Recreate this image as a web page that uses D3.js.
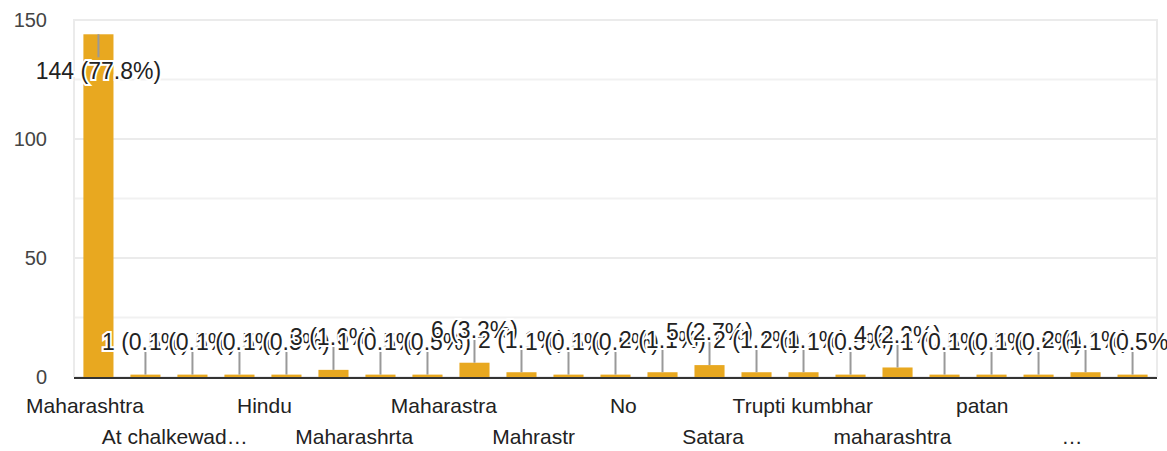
<!DOCTYPE html>
<meta charset="utf-8">
<script src="https://d3js.org/d3.v7.min.js"></script>
<html>
<head>
<style>
body { margin: 0; background: white; }
text { font-family: Arial, "Liberation Sans", sans-serif; }
</style>
</head>
<body>
<div id="my_dataviz"></div>
<script>

  // answer counts, one per bar (total 185)
  var counts = [144, 1, 1, 1, 1, 3, 1, 1, 6, 2, 1, 1, 2, 5, 2, 2, 1, 4, 1, 1, 1, 2, 1];
  var percents = ["77.8%", "0.5%", "0.5%", "0.5%", "0.5%", "1.6%", "0.5%", "0.5%", "3.2%", "1.1%", "0.5%", "0.5%",
                  "1.1%", "2.7%", "1.1%", "1.1%", "0.5%", "2.2%", "0.5%", "0.5%", "0.5%", "1.1%", "0.5%"];
  // category labels shown under the axis
  var xLabels = ["Maharashtra", "At chalkewad…", "Hindu", "Maharashrta", "Maharastra", "Mahrastr",
                 "No", "Satara", "Trupti kumbhar", "maharashtra", "patan", "…"];
  var yTicks = [0, 50, 100, 150];
  var yMinor = [25, 75, 125];

  var W = 1167, H = 451;
  var margin = {top: 20, right: 10, bottom: 74, left: 74};

  var svg = d3.select("#my_dataviz")
    .append("svg")
      .attr("width", W)
      .attr("height", H);

  var x = d3.scaleBand()
    .domain(d3.range(counts.length))
    .range([margin.left, W - margin.right])
    .paddingInner(0.36)
    .paddingOuter(0.2);

  var y = d3.scaleLinear()
    .domain([0, 150])
    .range([H - margin.bottom, margin.top]);

  // gridlines
  svg.append("g").selectAll("line.minor")
    .data(yMinor).enter().append("line")
      .attr("x1", margin.left).attr("x2", W - margin.right)
      .attr("y1", function(d) { return y(d); }).attr("y2", function(d) { return y(d); })
      .attr("stroke", "#f1f1f1").attr("stroke-width", 2);
  svg.append("g").selectAll("line.major")
    .data(yTicks).enter().append("line")
      .attr("x1", margin.left).attr("x2", W - margin.right)
      .attr("y1", function(d) { return y(d); }).attr("y2", function(d) { return y(d); })
      .attr("stroke", "#ebebeb").attr("stroke-width", 2);
  // plot frame sides
  svg.append("line")
    .attr("x1", margin.left).attr("x2", margin.left)
    .attr("y1", y(150) - 1).attr("y2", y(0))
    .attr("stroke", "#ebebeb").attr("stroke-width", 2);
  svg.append("line")
    .attr("x1", W - margin.right).attr("x2", W - margin.right)
    .attr("y1", y(150) - 1).attr("y2", y(0))
    .attr("stroke", "#ebebeb").attr("stroke-width", 2);

  // y tick labels
  svg.append("g").selectAll("text")
    .data(yTicks).enter().append("text")
      .attr("x", 47)
      .attr("y", function(d) { return y(d); })
      .attr("dy", "0.36em")
      .attr("text-anchor", "end")
      .style("font-size", "20px")
      .style("fill", "#444")
      .text(function(d) { return d; });

  // bars
  svg.append("g").selectAll("rect")
    .data(counts).enter().append("rect")
      .attr("x", function(d, i) { return x(i); })
      .attr("width", x.bandwidth())
      .attr("y", function(d) { return y(d); })
      .attr("height", function(d) { return y(0) - y(d); })
      .attr("fill", "#e8a820");

  // baseline
  svg.append("line")
    .attr("x1", margin.left).attr("x2", W - margin.right)
    .attr("y1", y(0) + 1).attr("y2", y(0) + 1)
    .attr("stroke", "#333").attr("stroke-width", 2);

  // value labels with leader lines; labels go inside the bar when there is no room above
  var inside = function(d) { return y(d) - 45 < margin.top; };
  var labels = svg.append("g").selectAll("g")
    .data(counts).enter().append("g");
  labels.append("line")
    .attr("x1", function(d, i) { return x(i) + x.bandwidth() / 2; })
    .attr("x2", function(d, i) { return x(i) + x.bandwidth() / 2; })
    .attr("y1", function(d) { return y(d); })
    .attr("y2", function(d) { return inside(d) ? y(d) + 23 : y(d) - 23; })
    .attr("stroke", "#999").attr("stroke-width", 2);
  labels.append("text")
    .attr("x", function(d, i) { return x(i) + x.bandwidth() / 2; })
    .attr("y", function(d) { return inside(d) ? y(d) + 36 : y(d) - 33; })
    .attr("dy", "0.36em")
    .attr("text-anchor", "middle")
    .style("font-size", "23px")
    .style("fill", "#222")
    .style("stroke", "white")
    .style("stroke-width", 4)
    .style("paint-order", "stroke")
    .text(function(d, i) { return d + " (" + percents[i] + ")"; });

  // category labels, staggered on two rows
  var xl = d3.scalePoint()
    .domain(xLabels)
    .range([margin.left + 11, W - margin.right - 85]);
  svg.append("g").selectAll("text")
    .data(xLabels).enter().append("text")
      .attr("x", function(d) { return xl(d); })
      .attr("y", function(d, i) { return i % 2 == 0 ? 413 : 444; })
      .attr("text-anchor", "middle")
      .style("font-size", "21px")
      .style("fill", "#222")
      .text(function(d) { return d; });

</script>
</body>
</html>
